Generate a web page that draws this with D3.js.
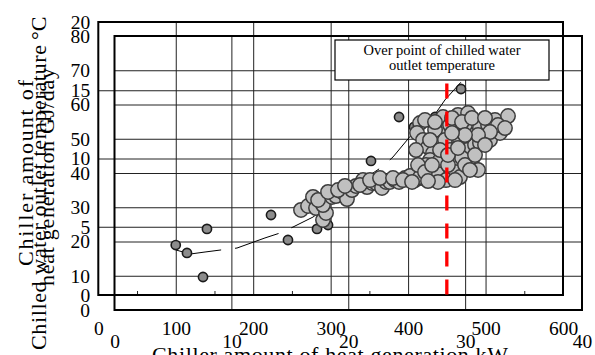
<!DOCTYPE html>
<html>
<head>
<meta charset="utf-8">
<script src="https://cdn.jsdelivr.net/npm/d3@7"></script>
<style>
  body { margin: 0; background: #fff; }
  svg text { font-family: "Liberation Serif", "Times New Roman", serif; fill: #000; }
  .tick text { font-size: 19.5px; }
  .grid line { stroke: #222; stroke-width: 1; }
  .frame { fill: none; stroke: #000; stroke-width: 2; }
</style>
</head>
<body>
<div id="chart"></div>
<script>
// Axis ticks
const kwTicks = [0, 100, 200, 300, 400, 500, 600];
const kwMinor = [50, 150, 250, 350, 450, 550];
const gjTicks = [0, 5, 10, 15, 20];
const gjdayTicks = [0, 10, 20, 30, 40];
const tempTicks = [0, 10, 20, 30, 40, 50, 60, 70, 80];

// [kW, GJ/day] - small dark markers
const darkPoints = [
  [100, 3.66], [114.5, 3.08], [140.3, 4.84], [135.2, 1.32], [223, 5.86],
  [244.9, 4.03], [282.4, 4.84], [296.6, 5.13], [352.1, 9.82], [388.3, 13.04],
  [407.6, 12.31], [434.8, 13.04], [468.3, 15.09]
];

// [kW, GJ/day] - large light markers
const lightPoints = [
  [261.7, 6.23], [270.8, 6.52], [277.2, 7.18], [281.1, 6.37], [290.1, 5.49],
  [294.0, 6.01], [290.1, 6.59], [301.8, 7.18], [306.9, 7.25], [314.7, 7.55],
  [321.1, 7.03], [327.6, 7.69], [332.7, 7.99], [341.8, 8.42], [347.0, 7.91],
  [353.4, 8.21], [358.6, 8.21], [366.3, 7.84], [371.5, 8.28], [376.6, 8.28],
  [383.1, 8.42], [388.3, 8.28], [396.0, 8.57], [402.5, 8.42], [408.9, 8.42],
  [418.0, 8.57], [425.7, 8.64], [434.8, 8.64], [441.2, 8.57], [450.2, 8.64],
  [458.0, 8.79], [463.1, 9.01], [470.9, 9.30], [477.4, 9.67], [482.5, 10.26],
  [283.8, 6.96], [296.6, 7.55], [309.5, 7.69], [318.5, 7.99], [337.9, 8.06],
  [350.8, 8.42], [363.7, 8.57], [380.5, 8.57], [402.5, 8.72],
  [415.4, 12.60], [411.5, 11.87], [419.3, 11.36], [425.7, 10.84], [432.2, 10.40],
  [437.3, 8.94], [428.3, 9.89], [423.1, 9.52], [445.1, 13.04], [441.2, 12.09],
  [434.8, 12.09], [447.6, 11.36], [454.1, 10.62], [454.1, 12.45], [458.0, 9.67],
  [460.6, 9.01], [464.4, 13.19], [467.0, 11.36], [467.0, 8.64], [476.1, 10.62],
  [477.4, 13.33], [482.5, 9.89], [448.9, 8.42], [415.4, 8.64], [393.4, 8.42],
  [441.2, 9.89], [451.5, 9.52], [469.6, 10.04], [479.9, 11.72], [473.5, 12.45],
  [486.4, 10.99], [490.3, 9.16], [492.8, 12.23], [492.8, 11.14], [496.7, 11.58],
  [503.2, 12.45], [505.8, 11.36], [512.2, 12.82], [518.7, 11.87], [529.0, 13.11],
  [421.8, 12.82], [434.7, 12.67], [456.7, 12.97], [469.6, 12.67], [482.5, 12.97],
  [499.3, 12.97], [516.1, 12.45], [525.1, 12.23], [505.8, 11.94], [490.3, 11.72],
  [473.5, 11.72], [456.7, 11.87], [428.3, 11.36], [410.2, 10.62], [412.8, 9.52],
  [421.8, 9.01], [430.9, 9.52], [441.2, 10.62], [451.5, 10.26], [464.4, 10.77],
  [473.5, 9.52], [479.9, 9.16], [486.4, 10.26], [499.3, 10.99], [460.6, 8.42],
  [438.6, 8.28], [425.7, 8.35], [405.1, 8.28]
];

// moving average line [kW, GJ/day]
const trendPoints = [
  [100.3, 3.30], [118.4, 3.00], [137.8, 3.15], [158.4, 3.30], [179.1, 3.44],
  [215.2, 4.18], [234.6, 4.54], [251.4, 4.98], [277.2, 5.71], [354.7, 8.94],
  [366.3, 9.38], [380.5, 10.11], [406.3, 11.87], [412.8, 12.31], [432.2, 13.04],
  [447.6, 14.29], [469.6, 15.68]
];

const overPointKW = 450;
const overPointTop = 15.5;
const noteLines = ["Over point of chilled water", "outlet temperature"];

const width = 595, height = 355;

// two overlapping frames
const xA = d3.scaleLinear().domain([0, 600]).range([98.3, 563]);
const yA = d3.scaleLinear().domain([0, 20]).range([295, 22]);
const xB = d3.scaleLinear().domain([0, 40]).range([114.5, 582]);
const yB = d3.scaleLinear().domain([0, 80]).range([310, 36]);

const svg = d3.select('#chart').append('svg')
    .attr('width', width)
    .attr('height', height);

// --- Grid lines ---
const gridB = svg.append('g').attr('class', 'grid');
gridB.append('g')
    .attr('transform', `translate(0,${yB(0)})`)
    .call(d3.axisBottom(xB).tickValues(gjdayTicks.slice(1, -1)).tickSize(yB(80) - yB(0)).tickFormat(''));
gridB.append('g')
    .attr('transform', `translate(${xB(0)},0)`)
    .call(d3.axisLeft(yB).tickValues(tempTicks.slice(1, -1)).tickSize(xB(0) - xB(40)).tickFormat(''));

const gridA = svg.append('g').attr('class', 'grid');
gridA.append('g')
    .attr('transform', `translate(0,${yA(0)})`)
    .call(d3.axisBottom(xA).tickValues(kwTicks.slice(1, -1)).tickSize(yA(20) - yA(0)).tickFormat(''));
gridA.append('g')
    .attr('transform', `translate(${xA(0)},0)`)
    .call(d3.axisLeft(yA).tickValues(gjTicks.slice(1, -1)).tickSize(xA(0) - xA(600)).tickFormat(''));
gridA.append('g')
    .attr('transform', `translate(0,${yA(0)})`)
    .call(d3.axisBottom(xA).tickValues(kwMinor).tickSize(-4).tickFormat(''));

svg.selectAll('.grid .domain').remove();

// --- Frames ---
svg.append('rect').attr('class', 'frame')
    .attr('x', xB(0)).attr('y', yB(80))
    .attr('width', xB(40) - xB(0)).attr('height', yB(0) - yB(80));
svg.append('rect').attr('class', 'frame')
    .attr('x', xA(0)).attr('y', yA(20))
    .attr('width', xA(600) - xA(0)).attr('height', yA(0) - yA(20));

// --- Tick labels ---
const labels = svg.append('g').attr('class', 'labels');
labels.append('g')
    .attr('transform', `translate(0,${yA(0)})`)
    .call(d3.axisBottom(xA).tickValues(kwTicks).tickSize(0).tickPadding(26));
labels.append('g')
    .attr('transform', `translate(0,${yB(0)})`)
    .call(d3.axisBottom(xB).tickValues(gjdayTicks).tickSize(0).tickPadding(24));
labels.append('g')
    .attr('transform', `translate(${xA(0)},0)`)
    .call(d3.axisLeft(yA).tickValues(gjTicks).tickSize(0).tickPadding(8));
labels.append('g')
    .attr('transform', `translate(${xB(0)},0)`)
    .call(d3.axisLeft(yB).tickValues(tempTicks).tickSize(0).tickPadding(24.5));
labels.selectAll('.domain').remove();
// drop the axis default sans-serif font
labels.selectAll('g').attr('font-family', null).attr('font-size', null);

// --- Axis titles ---
const title = (x, y, txt, len) => svg.append('text')
    .attr('transform', `translate(${x},${y}) rotate(-90)`)
    .attr('font-size', 22)
    .attr('textLength', len)
    .attr('lengthAdjust', 'spacing')
    .text(txt);

title(33, 266, 'Chiller amount of', 186);
title(54, 286, 'heat generation  GJ/day', 218);
title(46, 350, 'Chilled water outlet temperature', 305);
svg.append('text')
    .attr('transform', 'translate(46,40) rotate(-90)')
    .attr('font-size', 22)
    .text('°C');

svg.append('text')
    .attr('x', 152).attr('y', 362)
    .attr('font-size', 22)
    .attr('textLength', 356)
    .attr('lengthAdjust', 'spacing')
    .text('Chiller amount of heat generation  kW');

// --- Trend line ---
svg.append('path')
    .datum(trendPoints)
    .attr('fill', 'none')
    .attr('stroke', '#000')
    .attr('stroke-width', 1)
    .attr('stroke-dasharray', '46,14')
    .attr('d', d3.line().x(d => xA(d[0])).y(d => yA(d[1])));

// --- Points ---
svg.append('g').selectAll('circle')
    .data(darkPoints)
    .enter().append('circle')
    .attr('cx', d => xA(d[0]))
    .attr('cy', d => yA(d[1]))
    .attr('r', 4.6)
    .attr('fill', '#8c8c8c')
    .attr('stroke', '#1a1a1a')
    .attr('stroke-width', 1.6);

svg.append('g').selectAll('circle')
    .data(lightPoints)
    .enter().append('circle')
    .attr('cx', d => xA(d[0]))
    .attr('cy', d => yA(d[1]))
    .attr('r', 7.2)
    .attr('fill', '#c0c0c0')
    .attr('stroke', '#3c3c3c')
    .attr('stroke-width', 1.5);

// --- Over point marker ---
svg.append('line')
    .attr('x1', xA(overPointKW)).attr('x2', xA(overPointKW))
    .attr('y1', yA(overPointTop)).attr('y2', yA(0))
    .attr('stroke', '#ff0000')
    .attr('stroke-width', 3.3)
    .attr('stroke-dasharray', '15,13');

// note box
const note = svg.append('g');
note.append('rect')
    .attr('x', 335).attr('y', 40)
    .attr('width', 214).attr('height', 40)
    .attr('fill', '#fff')
    .attr('stroke', '#000')
    .attr('stroke-width', 1.2);
note.selectAll('text')
    .data(noteLines)
    .enter().append('text')
    .attr('x', 442)
    .attr('y', (d, i) => 55 + i * 15)
    .attr('text-anchor', 'middle')
    .attr('font-size', 14.5)
    .text(d => d);
</script>
</body>
</html>
